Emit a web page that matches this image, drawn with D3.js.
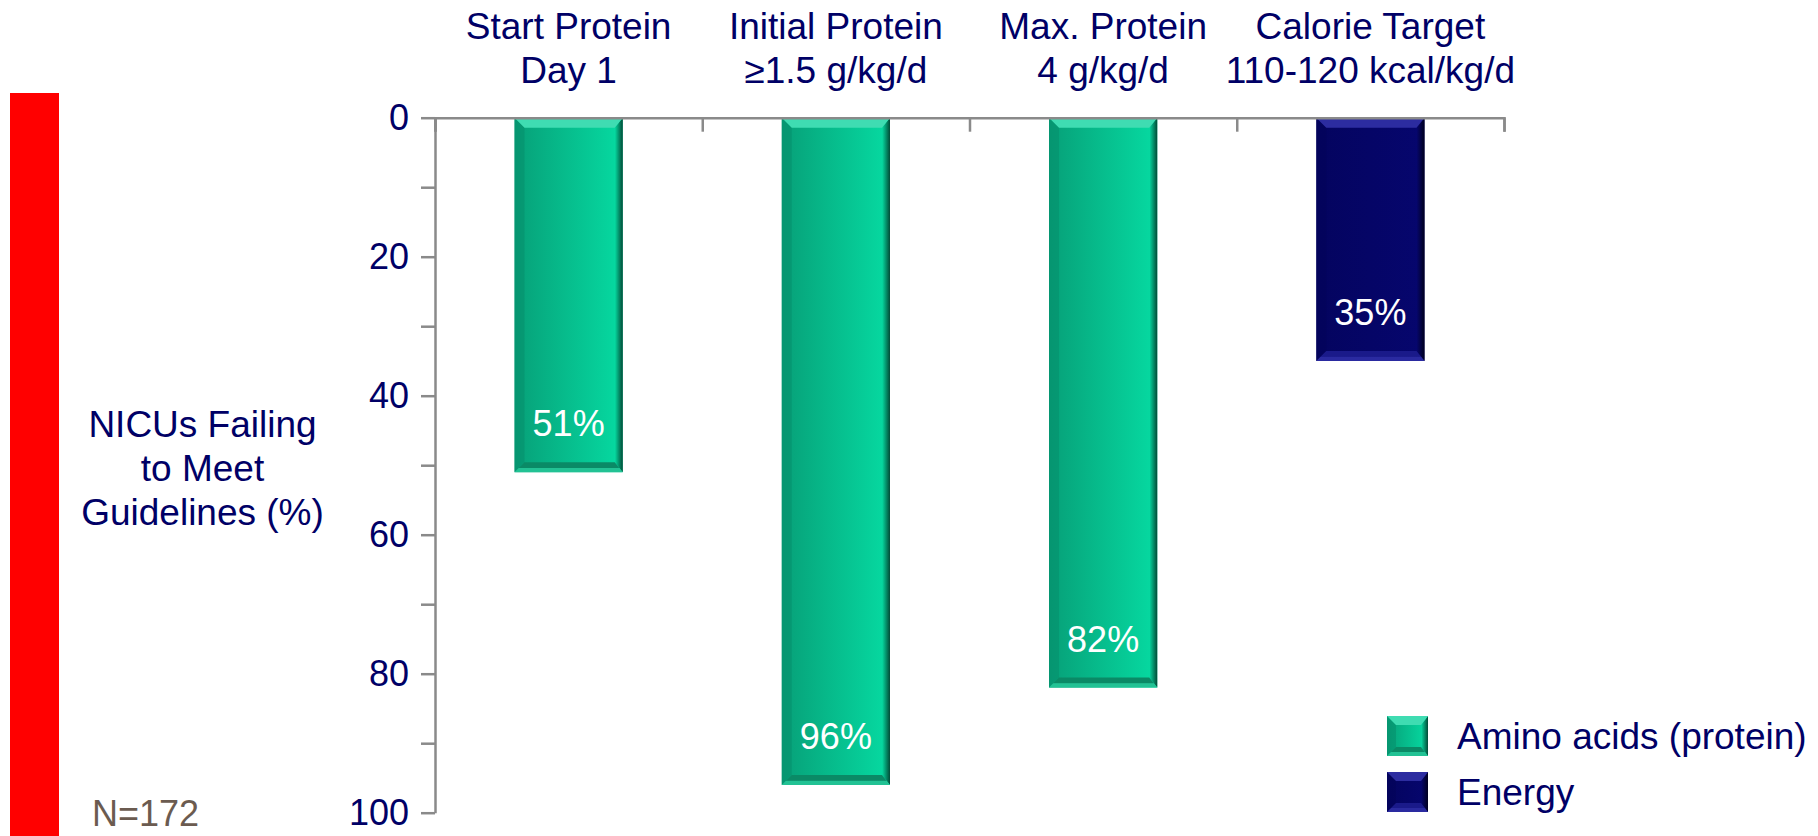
<!DOCTYPE html>
<html>
<head>
<meta charset="utf-8">
<script src="https://cdn.jsdelivr.net/npm/d3@7"></script>
<style>
  html, body { margin: 0; padding: 0; background: #ffffff; }
  svg { display: block; font-family: "Liberation Sans", Arial, Helvetica, sans-serif; }
</style>
</head>
<body>
<svg id="chart" width="1818" height="836"></svg>
<script>
// ---- data ----
const categoryLine1 = ["Start Protein", "Initial Protein", "Max. Protein", "Calorie Target"];
const categoryLine2 = ["Day 1", "\u22651.5 g/kg/d", "4 g/kg/d", "110-120 kcal/kg/d"];
const failingPct = [51, 96, 82, 35];
const seriesOf = ["protein", "protein", "protein", "energy"];
const seriesKeys = ["protein", "energy"];
const legendLabels = ["Amino acids (protein)", "Energy"];
const yTickValues = [0, 10, 20, 30, 40, 50, 60, 70, 80, 90, 100];
const yTitleLines = ["NICUs Failing", "to Meet", "Guidelines (%)"];
const sampleNote = "N=172";

// ---- palette ----
const navy = "#000066";
const axisGrey = "#8a8a8a";
const palette = {
  protein: { left: "#07a078", right: "#06dba2", top: "#3fdcb2", bottom: "#0a8a66", bottomEdge: "#22c294", side: "#024a36", leftEdge: "#068e6b" },
  energy:  { left: "#04045f", right: "#06066e", top: "#2c2ca0", bottom: "#1a1a8a", bottomEdge: "#2a2aa0", side: "#00001e", leftEdge: "#03035a" }
};

const svg = d3.select("#chart");
const defs = svg.append("defs");

seriesKeys.forEach(k => {
  const c = palette[k];
  const g = defs.append("linearGradient").attr("id", "body-" + k)
    .attr("x1", "0%").attr("x2", "100%").attr("y1", "0%").attr("y2", "0%");
  g.append("stop").attr("offset", "0%").attr("stop-color", c.left);
  g.append("stop").attr("offset", "100%").attr("stop-color", c.right);
  const s = defs.append("linearGradient").attr("id", "side-" + k)
    .attr("x1", "0%").attr("x2", "100%").attr("y1", "0%").attr("y2", "0%");
  s.append("stop").attr("offset", "0%").attr("stop-color", c.right);
  s.append("stop").attr("offset", "100%").attr("stop-color", c.side);
  const b = defs.append("linearGradient").attr("id", "bottom-" + k)
    .attr("x1", "0%").attr("x2", "0%").attr("y1", "0%").attr("y2", "100%");
  b.append("stop").attr("offset", "0%").attr("stop-color", c.bottom);
  b.append("stop").attr("offset", "55%").attr("stop-color", c.bottom);
  b.append("stop").attr("offset", "60%").attr("stop-color", c.bottomEdge);
  b.append("stop").attr("offset", "100%").attr("stop-color", c.bottomEdge);
});

// ---- scales ----
const plotLeft = 435, plotRight = 1504, plotTop = 117.7, plotBottom = 812.7;
const x = d3.scaleBand().domain(d3.range(categoryLine1.length)).range([plotLeft, plotRight]).padding(0);
const xEdges = d3.scaleLinear().domain([0, categoryLine1.length]).range([plotLeft, plotRight]);
const y = d3.scaleLinear().domain([0, 100]).range([plotTop, plotBottom]);
const barWidth = x.bandwidth() * 0.405;

// bevelled block drawn inside a group
function bevelBlock(g, x0, y0, w, h, key, b, side) {
  const c = palette[key];
  g.append("rect").attr("x", x0).attr("y", y0).attr("width", w).attr("height", h)
    .attr("fill", `url(#body-${key})`);
  g.append("polygon")
    .attr("points", [[x0, y0], [x0 + b, y0 + b], [x0 + b, y0 + h - b], [x0, y0 + h]].join(" "))
    .attr("fill", c.leftEdge).attr("opacity", 0.55);
  g.append("polygon")
    .attr("points", [[x0 + w, y0], [x0 + w, y0 + h], [x0 + w - side, y0 + h - b], [x0 + w - side, y0 + b]].join(" "))
    .attr("fill", `url(#side-${key})`);
  g.append("polygon")
    .attr("points", [[x0, y0], [x0 + w, y0], [x0 + w - side, y0 + b], [x0 + b, y0 + b]].join(" "))
    .attr("fill", c.top);
  g.append("polygon")
    .attr("points", [[x0, y0 + h], [x0 + w, y0 + h], [x0 + w - side, y0 + h - b], [x0 + b, y0 + h - b]].join(" "))
    .attr("fill", `url(#bottom-${key})`);
}

// ---- left red strip ----
svg.append("rect").attr("x", 10).attr("y", 93).attr("width", 49).attr("height", 743).attr("fill", "#ff0000");

// ---- bars ----
const bars = svg.append("g").attr("class", "bars");
failingPct.forEach((v, i) => {
  const bx = x(i) + (x.bandwidth() - barWidth) / 2;
  const g = bars.append("g");
  bevelBlock(g, bx, y(0), barWidth, y(v) - y(0), seriesOf[i], 10, 8);
  g.append("text")
    .attr("x", x(i) + x.bandwidth() / 2)
    .attr("y", y(v) - 36)
    .attr("text-anchor", "middle")
    .attr("font-size", 36)
    .attr("fill", "#ffffff")
    .text(v + "%");
});

// ---- axes ----
const yAxis = d3.axisLeft(y)
  .tickValues(yTickValues)
  .tickSize(14)
  .tickSizeOuter(0)
  .tickPadding(12)
  .tickFormat(d => (d % 20 === 0 ? d : ""));
const yg = svg.append("g").attr("transform", `translate(${plotLeft},0)`).call(yAxis);
yg.select(".domain").attr("stroke", axisGrey).attr("stroke-width", 2.5);
yg.selectAll(".tick line").attr("stroke", axisGrey).attr("stroke-width", 2.5);
yg.selectAll(".tick text").attr("fill", navy).attr("font-size", 36)
  .attr("font-family", "'Liberation Sans', Arial, sans-serif");

const xAxis = d3.axisBottom(xEdges)
  .tickValues(d3.range(categoryLine1.length + 1))
  .tickSize(14)
  .tickSizeOuter(14)
  .tickFormat("");
const xg = svg.append("g").attr("transform", `translate(0,${plotTop})`).call(xAxis);
xg.select(".domain").attr("stroke", axisGrey).attr("stroke-width", 2.5).attr("fill", "none");
xg.selectAll(".tick line").attr("stroke", axisGrey).attr("stroke-width", 2.5);

// ---- category headings ----
const heads = svg.append("g").attr("fill", navy).attr("font-size", 37).attr("text-anchor", "middle");
categoryLine1.forEach((t, i) => {
  const cx = x(i) + x.bandwidth() / 2;
  heads.append("text").attr("x", cx).attr("y", 39).text(t);
  heads.append("text").attr("x", cx).attr("y", 83).text(categoryLine2[i]);
});

// ---- y title ----
const title = svg.append("g").attr("fill", navy).attr("font-size", 37).attr("text-anchor", "middle");
yTitleLines.forEach((t, i) => {
  title.append("text").attr("x", 202.5).attr("y", 437 + i * 44).text(t);
});

// ---- sample size ----
svg.append("text").attr("x", 92).attr("y", 826).attr("font-size", 36)
  .attr("fill", "#6b5b50").text(sampleNote);

// ---- legend ----
const legend = svg.append("g");
seriesKeys.forEach((k, i) => {
  const ly = 716 + i * 56;
  bevelBlock(legend.append("g"), 1387, ly, 41, 40, k, 9, 7);
  legend.append("text").attr("x", 1457).attr("y", ly + 33)
    .attr("font-size", 37).attr("fill", navy).text(legendLabels[i]);
});
</script>
</body>
</html>
